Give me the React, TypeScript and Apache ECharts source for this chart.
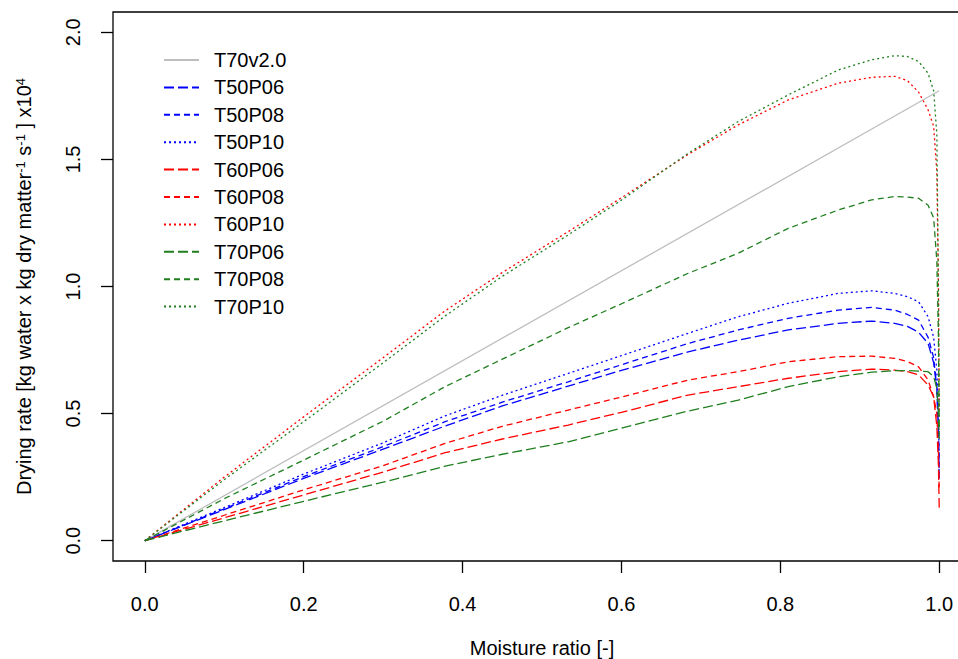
import React, { useEffect, useRef } from "react";
import * as echarts from "echarts";

// Moisture ratio sample points (shared by the measured series)
const MR = [0, 0.1, 0.2, 0.3, 0.378, 0.45, 0.533, 0.6, 0.684, 0.747, 0.81, 0.873, 0.915, 0.944, 0.96, 0.974, 0.986, 0.993, 0.997, 0.999, 1.0];

const T50P06 = [0, 0.122, 0.245, 0.36, 0.451, 0.53, 0.608, 0.67, 0.743, 0.789, 0.829, 0.855, 0.864, 0.855, 0.843, 0.82, 0.776, 0.7, 0.6, 0.42, 0.23];
const T50P08 = [0, 0.125, 0.252, 0.37, 0.468, 0.545, 0.625, 0.692, 0.776, 0.829, 0.875, 0.907, 0.918, 0.907, 0.89, 0.868, 0.8, 0.72, 0.6, 0.45, 0.28];
const T50P10 = [0, 0.13, 0.262, 0.385, 0.491, 0.572, 0.658, 0.728, 0.816, 0.881, 0.934, 0.973, 0.983, 0.973, 0.96, 0.94, 0.881, 0.8, 0.67, 0.5, 0.32];
const T60P06 = [0, 0.09, 0.18, 0.27, 0.346, 0.4, 0.455, 0.505, 0.573, 0.606, 0.639, 0.665, 0.675, 0.671, 0.665, 0.652, 0.612, 0.566, 0.45, 0.3, 0.13];
const T60P08 = [0, 0.1, 0.2, 0.295, 0.383, 0.45, 0.514, 0.565, 0.632, 0.665, 0.704, 0.724, 0.726, 0.717, 0.705, 0.684, 0.632, 0.566, 0.5, 0.35, 0.2];
const T60P10 = [0, 0.25, 0.487, 0.72, 0.904, 1.055, 1.216, 1.349, 1.52, 1.636, 1.734, 1.8, 1.823, 1.827, 1.81, 1.765, 1.695, 1.63, 1.45, 1.0, 0.5];
const T70P06 = [0, 0.078, 0.155, 0.23, 0.293, 0.34, 0.389, 0.443, 0.51, 0.553, 0.606, 0.645, 0.663, 0.669, 0.669, 0.667, 0.665, 0.645, 0.6, 0.5, 0.4];
const T70P08 = [0, 0.165, 0.317, 0.47, 0.606, 0.714, 0.838, 0.932, 1.052, 1.131, 1.229, 1.301, 1.341, 1.354, 1.352, 1.347, 1.32, 1.27, 1.1, 0.8, 0.42];
const T70P10 = [0, 0.24, 0.468, 0.7, 0.884, 1.04, 1.203, 1.34, 1.524, 1.649, 1.754, 1.852, 1.892, 1.908, 1.905, 1.885, 1.839, 1.77, 1.6, 1.0, 0.45];

// Reference model line
const T70V2_X = [0, 1.0];
const T70V2_Y = [0, 1.77];

const X_TICKS = [0, 0.2, 0.4, 0.6, 0.8, 1.0];
const Y_TICKS = [0, 0.5, 1.0, 1.5, 2.0];

const GRAY = "#bebebe";
const BLUE = "#0000ff";
const RED = "#ff0000";
const GREEN = "#1f7f1f";

const LONG = [10, 4];
const DASH = [6, 4];
const DOT = [2, 3];

const FONT = "'Liberation Sans', Arial, sans-serif";

const zip = (xs: number[], ys: number[]) => xs.map((x, i) => [x, ys[i]]);

export default function App() {
  const ref = useRef<HTMLDivElement>(null);
  useEffect(() => {
    if (!ref.current) return;
    const chart = echarts.init(ref.current, undefined, { renderer: "svg" });
    const mk = (name: string, xs: number[], ys: number[], color: string, type: any) => ({
      name,
      type: "line",
      data: zip(xs, ys),
      symbol: "none",
      showSymbol: false,
      color,
      itemStyle: { color, opacity: 0 },
      lineStyle: { color, width: 1.3, type },
      emphasis: { disabled: true },
    });
    const series = [
      mk("T70v2.0", T70V2_X, T70V2_Y, GRAY, "solid"),
      mk("T50P06", MR, T50P06, BLUE, LONG),
      mk("T50P08", MR, T50P08, BLUE, DASH),
      mk("T50P10", MR, T50P10, BLUE, DOT),
      mk("T60P06", MR, T60P06, RED, LONG),
      mk("T60P08", MR, T60P08, RED, DASH),
      mk("T60P10", MR, T60P10, RED, DOT),
      mk("T70P06", MR, T70P06, GREEN, LONG),
      mk("T70P08", MR, T70P08, GREEN, DASH),
      mk("T70P10", MR, T70P10, GREEN, DOT),
    ];
    chart.setOption({
      animation: false,
      backgroundColor: "#ffffff",
      textStyle: { fontFamily: FONT },
      grid: {
        left: 113,
        width: 858,
        top: 12,
        height: 549,
        outerBoundsMode: "none",
        containLabel: false,
        show: true,
        borderColor: "#000",
        borderWidth: 1.3,
        backgroundColor: "transparent",
      },
      legend: {
        orient: "vertical",
        left: 163,
        top: 50,
        padding: 0,
        itemWidth: 35,
        itemHeight: 20,
        itemGap: 7.4,
        itemStyle: { opacity: 0 },
        textStyle: { fontSize: 20, color: "#000", fontFamily: FONT, padding: [0, 0, 0, 10] },
        data: series.map((s) => s.name),
      },
      xAxis: {
        type: "value",
        min: -0.04,
        max: 1.04,
        name: "Moisture ratio [-]",
        nameLocation: "middle",
        nameGap: 77,
        nameTextStyle: { fontSize: 20, color: "#000", fontFamily: FONT },
        axisLine: { show: false, onZero: false },
        axisTick: { show: true, inside: false, length: 12, lineStyle: { color: "#000", width: 1.3 }, customValues: X_TICKS },
        axisLabel: {
          fontSize: 20,
          color: "#000",
          margin: 33,
          fontFamily: FONT,
          customValues: X_TICKS,
          formatter: (v: number) => v.toFixed(1),
        },
        splitLine: { show: false },
      },
      yAxis: {
        type: "value",
        min: -0.08,
        max: 2.08,
        name: "{t|Drying rate [kg water x kg dry matter}{s|-1}{t| s}{s|-1}{t| ] x10}{s|4}",
        nameLocation: "middle",
        nameRotate: 90,
        nameGap: 79,
        nameTextStyle: {
          fontFamily: FONT,
          rich: {
            t: { fontSize: 20, color: "#000", fontFamily: FONT, verticalAlign: "bottom", lineHeight: 20 },
            s: { fontSize: 13, color: "#000", fontFamily: FONT, verticalAlign: "top", lineHeight: 13, padding: [0, 0, 16, 0] },
          },
        },
        axisLine: { show: false, onZero: false },
        axisTick: { show: true, inside: false, length: 12, lineStyle: { color: "#000", width: 1.3 }, customValues: Y_TICKS },
        axisLabel: {
          fontSize: 20,
          color: "#000",
          rotate: 90,
          margin: 30,
          fontFamily: FONT,
          customValues: Y_TICKS,
          formatter: (v: number) => v.toFixed(1),
        },
        splitLine: { show: false },
      },
      series,
    });
    return () => chart.dispose();
  }, []);
  return (
    <div
      ref={ref}
      style={{ position: "fixed", left: 0, top: 0, width: 958, height: 659, background: "#fff" }}
    />
  );
}
